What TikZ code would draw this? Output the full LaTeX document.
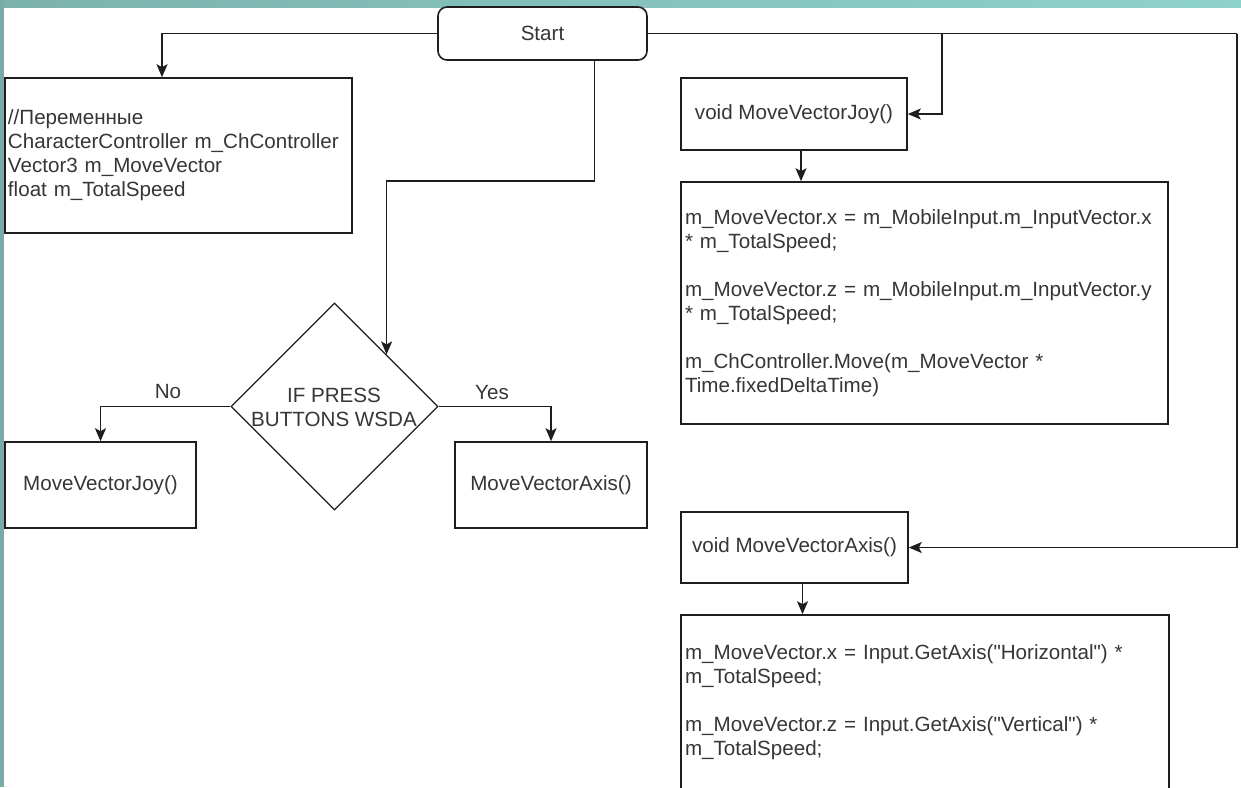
\documentclass[tikz,border=0pt]{standalone}
\usepackage{fontspec}
\setmainfont{Liberation Sans}
\newfontfamily\arialfont{Liberation Sans}
\usetikzlibrary{arrows.meta,shapes.geometric}
\definecolor{ln}{HTML}{1E1E1E}
\definecolor{tx}{HTML}{363636}
\definecolor{tealA}{HTML}{7BB2AC}
\definecolor{tealB}{HTML}{8FD2CA}
\definecolor{tealL}{HTML}{78ACA6}
\tikzset{
  base/.style={font=\arialfont\fontsize{20.6pt}{24pt}\selectfont, text=tx},
  box/.style={base, draw=ln, line width=1.6pt, rectangle, inner sep=0pt, fill=white},
  codebox/.style={box, align=left, inner xsep=4pt},
  arr/.style={draw=ln, line width=1.6pt, -{Stealth[length=13pt,width=11pt,inset=3pt]}},
  conn/.style={draw=ln, line width=1.6pt},
  lbl/.style={base, inner sep=0pt},
}
\begin{document}
\begin{tikzpicture}[x=1pt,y=-1pt]
\useasboundingbox (0,0) rectangle (1241,787);
\clip (0,0) rectangle (1241,787);
\fill[white] (0,0) rectangle (1241,787);
\shade[left color=tealA, right color=tealB] (0,0) rectangle (1241,7);
\fill[tealL] (0,0) rectangle (4,787);

% nodes
\node[box, rounded corners=9pt, minimum width=209pt, minimum height=53pt] (start) at (542.5,33.5) {Start};
\node[codebox, inner xsep=3pt, text width=341pt, minimum height=155pt] (var) at (178.5,155.5)
  {//Переменные\\CharacterController m\_ChController\\Vector3 m\_MoveVector\\float m\_TotalSpeed};
\node[draw=ln, line width=1.3pt, diamond, minimum width=207pt, minimum height=207pt, inner sep=0pt] (dia) at (334.5,406.5) {};
\node[lbl, align=center] (diatext) at (334,407.5) {IF PRESS\\BUTTONS WSDA};
\node[box, minimum width=191pt, minimum height=86pt] (joyB) at (100.5,485) {MoveVectorJoy()};
\node[box, minimum width=192pt, minimum height=86pt] (axisB) at (551,485) {MoveVectorAxis()};
\node[box, minimum width=226pt, minimum height=72pt] (joyA) at (794,114) {void MoveVectorJoy()};
\node[codebox, text width=479pt, minimum height=242pt] (codeA) at (924.5,303)
  {m\_MoveVector.x = m\_MobileInput.m\_InputVector.x\\{*} m\_TotalSpeed;\\[24pt]m\_MoveVector.z = m\_MobileInput.m\_InputVector.y\\{*} m\_TotalSpeed;\\[24pt]m\_ChController.Move(m\_MoveVector *\\Time.fixedDeltaTime)};
\node[box, minimum width=227pt, minimum height=71pt] (axisA) at (794.5,547.5) {void MoveVectorAxis()};
\node[codebox, text width=480pt, minimum height=175pt] (codeB) at (925,702.5)
  {m\_MoveVector.x = Input.GetAxis("Horizontal") *\\m\_TotalSpeed;\\[24pt]m\_MoveVector.z = Input.GetAxis("Vertical") *\\m\_TotalSpeed;};

% labels
\node[lbl] (nolbl) at (168,392) {No};
\node[lbl] (yeslbl) at (492,393) {Yes};

% connectors
\coordinate (split) at (942,33.5);
\coordinate (corner) at (1237,33.5);
\draw[arr] (start.west) -| (162,0 |- var.north);
\draw[arr] ([xshift=52pt]start.south) -- ++(0,120) -| (dia.north east);
\draw[arr] (dia.west) -| (joyB.north);
\draw[arr] (dia.east) -| (axisB.north);
\draw[conn] (start.east) -- (corner);
\draw[arr] (corner) |- (axisA.east);
\draw[arr] (split) |- (joyA.east);
\draw[arr] ([xshift=7pt]joyA.south) -- ([xshift=7pt]joyA.south |- codeA.north);
\draw[arr] ([xshift=8pt]axisA.south) -- ([xshift=8pt]axisA.south |- codeB.north);
\end{tikzpicture}
\end{document}
